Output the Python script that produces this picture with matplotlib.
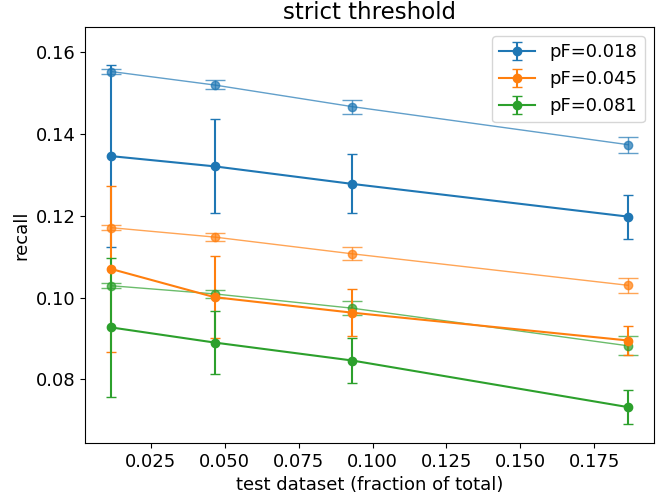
import numpy as np
import matplotlib
matplotlib.use("Agg")
import matplotlib.pyplot as plt

# test set size as fraction of the full dataset
test_frac = [0.01165, 0.0466, 0.0932, 0.1864]
pf_labels = ["pF=0.018", "pF=0.045", "pF=0.081"]

# recall per pF: mean and spread over runs
recall = [
    [0.1346, 0.1321, 0.1278, 0.1198],
    [0.1070, 0.1001, 0.0963, 0.0895],
    [0.0927, 0.0890, 0.0846, 0.0732],
]
recall_err = [
    [0.0223, 0.0115, 0.0072, 0.0054],
    [0.0203, 0.0101, 0.0057, 0.0035],
    [0.0170, 0.0076, 0.0055, 0.0041],
]

# same curves computed on the training folds
recall_train = [
    [0.1553, 0.1520, 0.1467, 0.1374],
    [0.1171, 0.1148, 0.1107, 0.1030],
    [0.1029, 0.1009, 0.0974, 0.0882],
]
recall_train_err = [
    [0.0005, 0.0011, 0.0017, 0.0020],
    [0.0006, 0.0010, 0.0016, 0.0019],
    [0.0006, 0.0009, 0.0017, 0.0023],
]

colors = ["C0", "C1", "C2"]

fig, ax = plt.subplots(figsize=(6.66, 4.99), dpi=100)
fig.subplots_adjust(left=0.128, right=0.982, bottom=0.112, top=0.946)

for i in range(3):
    ax.errorbar(test_frac, recall_train[i], yerr=recall_train_err[i], fmt="-o",
                color=colors[i], alpha=0.7, lw=1, ms=6, capsize=7)

for i in range(3):
    ax.errorbar(test_frac, recall[i], yerr=recall_err[i], fmt="-o",
                color=colors[i], lw=1.5, ms=6, capsize=3.5, label=pf_labels[i])

ax.set_xlabel("test dataset (fraction of total)", fontsize=13)
ax.set_ylabel("recall", fontsize=13)
ax.set_title("strict threshold", fontsize=16.5)
ax.tick_params(labelsize=13)
ax.set_yticks([0.08, 0.10, 0.12, 0.14, 0.16])
ax.set_ylim(0.0644, 0.1662)
ax.legend(loc="upper right", fontsize=13)

fig.savefig("out.png")
